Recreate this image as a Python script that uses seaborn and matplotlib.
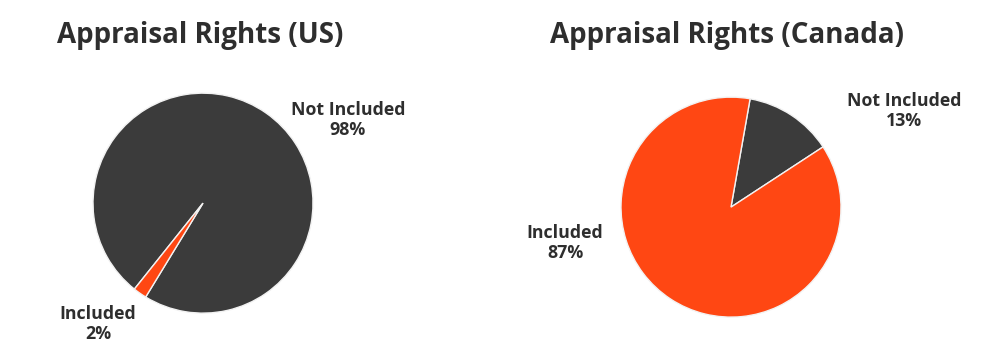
import matplotlib
matplotlib.use("Agg")
import matplotlib.pyplot as plt
import seaborn as sns

# data
categories = ["Not Included", "Included"]
us_share = [98, 2]
canada_share = [13, 87]
titles = ["Appraisal Rights (US)", "Appraisal Rights (Canada)"]

sns.set_theme(style="white")
plt.rcParams["font.family"] = ["Open Sans", "DejaVu Sans"]

palette = sns.color_palette(["#3b3b3b", "#ff4713"])
text_color = "#2e2e2e"

fig = plt.figure(figsize=(10, 3.62), dpi=100)

# axes placed so each pie has radius ~110px
ax_us = fig.add_axes([0.093, 0.135, 0.22, 0.6077])
ax_ca = fig.add_axes([0.621, 0.124, 0.22, 0.6077])

wedge_kw = dict(edgecolor="#f2f2f2", linewidth=1.0)

ax_us.pie(us_share, colors=palette, startangle=591.4, counterclock=False,
          wedgeprops=wedge_kw, radius=1)
ax_ca.pie(canada_share, colors=palette, startangle=80, counterclock=False,
          wedgeprops=wedge_kw, radius=1)

for ax in (ax_us, ax_ca):
    ax.set_xlim(-1, 1)
    ax.set_ylim(-1, 1)
    ax.set_aspect("equal")
    ax.axis("off")

# titles
fig.text(0.057, 0.881, titles[0], fontsize=20, fontweight="bold",
         color=text_color, va="baseline", ha="left")
fig.text(0.550, 0.881, titles[1], fontsize=20, fontweight="bold",
         color=text_color, va="baseline", ha="left")

# slice labels (figure coords)
lbl = dict(fontsize=12.8, fontweight="bold", color=text_color,
           ha="center", va="center", linespacing=1.2)
fig.text(0.348, 1 - 120 / 362, f"{categories[0]}\n{us_share[0]}%", **lbl)
fig.text(0.098, 1 - 324 / 362, f"{categories[1]}\n{us_share[1]}%", **lbl)
fig.text(0.904, 1 - 111 / 362, f"{categories[0]}\n{canada_share[0]}%", **lbl)
fig.text(0.565, 1 - 243 / 362, f"{categories[1]}\n{canada_share[1]}%", **lbl)

fig.savefig("out.png", dpi=100, facecolor="white")
plt.close(fig)
